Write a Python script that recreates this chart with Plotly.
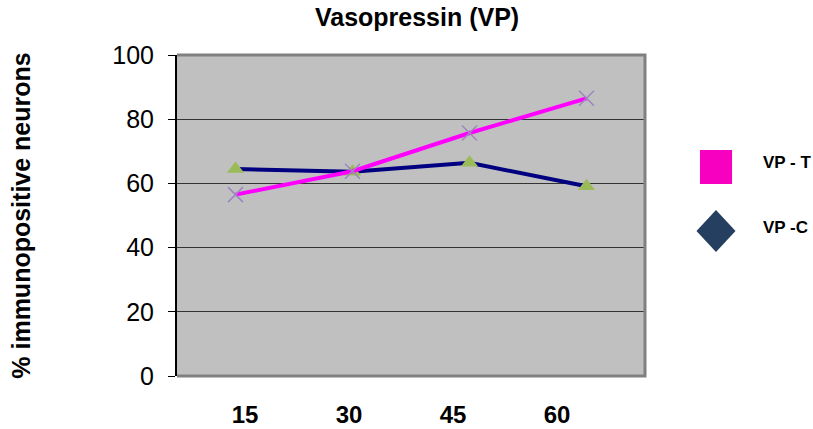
import plotly.graph_objects as go

minutes = ["15", "30", "45", "60"]
vp_t = [56.5, 63.8, 75.7, 86.5]
vp_c = [64.5, 63.6, 66.4, 59.1]
series_names = ["VP - T", "VP -C"]

font = "Liberation Sans, Arial, sans-serif"

fig = go.Figure()

fig.add_trace(go.Scatter(
    x=minutes, y=vp_c, name=series_names[1], mode="lines+markers",
    line=dict(color="#000080", width=4),
    marker=dict(symbol="triangle-up", size=15, color="#9bbb59"),
    showlegend=False))
fig.add_trace(go.Scatter(
    x=minutes, y=vp_t, name=series_names[0], mode="lines+markers",
    line=dict(color="#ff00ff", width=4),
    marker=dict(symbol="x-thin", size=15, line=dict(color="#9d86c0", width=1.5)),
    showlegend=False))
# invisible helper so the label axis gets drawn
fig.add_trace(go.Scatter(x=[None], y=[None], xaxis="x2", showlegend=False, hoverinfo="skip"))

# legend drawn by hand (big symbols)
fig.add_shape(type="rect", xref="paper", yref="paper",
              x0=1.1175, x1=1.186, y0=0.598, y1=0.704,
              fillcolor="#f700c0", line=dict(width=0))
cx, cy, dx, dy = 1.1517, 0.4517, 0.0417, 0.0654
fig.add_shape(type="path", xref="paper", yref="paper",
              path=f"M {cx},{cy+dy} L {cx+dx},{cy} L {cx},{cy-dy} L {cx-dx},{cy} Z",
              fillcolor="#243f60", line=dict(width=0))
fig.add_annotation(text="<b>" + series_names[0] + "</b>", xref="paper", yref="paper",
                   x=1.248, y=0.6636, xanchor="left", yanchor="middle", showarrow=False,
                   font=dict(family=font, size=17, color="black"))
fig.add_annotation(text="<b>" + series_names[1] + "</b>", xref="paper", yref="paper",
                   x=1.248, y=0.464, xanchor="left", yanchor="middle", showarrow=False,
                   font=dict(family=font, size=17, color="black"))

# gray frame on top, right and bottom
fig.add_shape(type="path", xref="paper", yref="paper",
              path="M 0,1 L 1,1 L 1,0 L 0,0", line=dict(color="#808080", width=3))

fig.update_layout(
    width=813, height=429,
    margin=dict(l=177, r=168, t=55, b=53),
    paper_bgcolor="white", plot_bgcolor="#c0c0c0",
    font=dict(family=font, color="black"),
    title=dict(text="<b>Vasopressin (VP)</b>", x=0.513, xref="container", xanchor="center",
               y=0.96, yref="container", yanchor="middle",
               font=dict(family=font, size=25, color="black")),
    xaxis=dict(type="category", range=[-0.5, 3.5], showticklabels=False, showgrid=False,
               zeroline=False, ticks="", automargin=False),
    xaxis2=dict(overlaying="x", anchor="y", side="bottom", range=[-0.654, 3.846],
                tickmode="array", tickvals=[0, 1, 2, 3], ticktext=minutes,
                showgrid=False, zeroline=False, ticks="", ticklabelstandoff=22,
                automargin=False,
                tickfont=dict(family=font, size=24, color="black", weight="bold")),
    yaxis=dict(range=[0, 100], dtick=20, showgrid=True, gridcolor="#333333", gridwidth=1,
               zeroline=False, showline=True, linecolor="black", linewidth=2,
               ticks="outside", ticklen=7, tickcolor="black", ticklabelstandoff=9,
               automargin=False,
               tickfont=dict(family=font, size=25, color="black"),
               title=dict(text="<b>% immunopositive neurons</b>", standoff=75,
                          font=dict(family=font, size=25, color="black"))),
)

fig.write_html("out.html", config={"displayModeBar": False},
               post_script="document.body.style.margin='0px';")
